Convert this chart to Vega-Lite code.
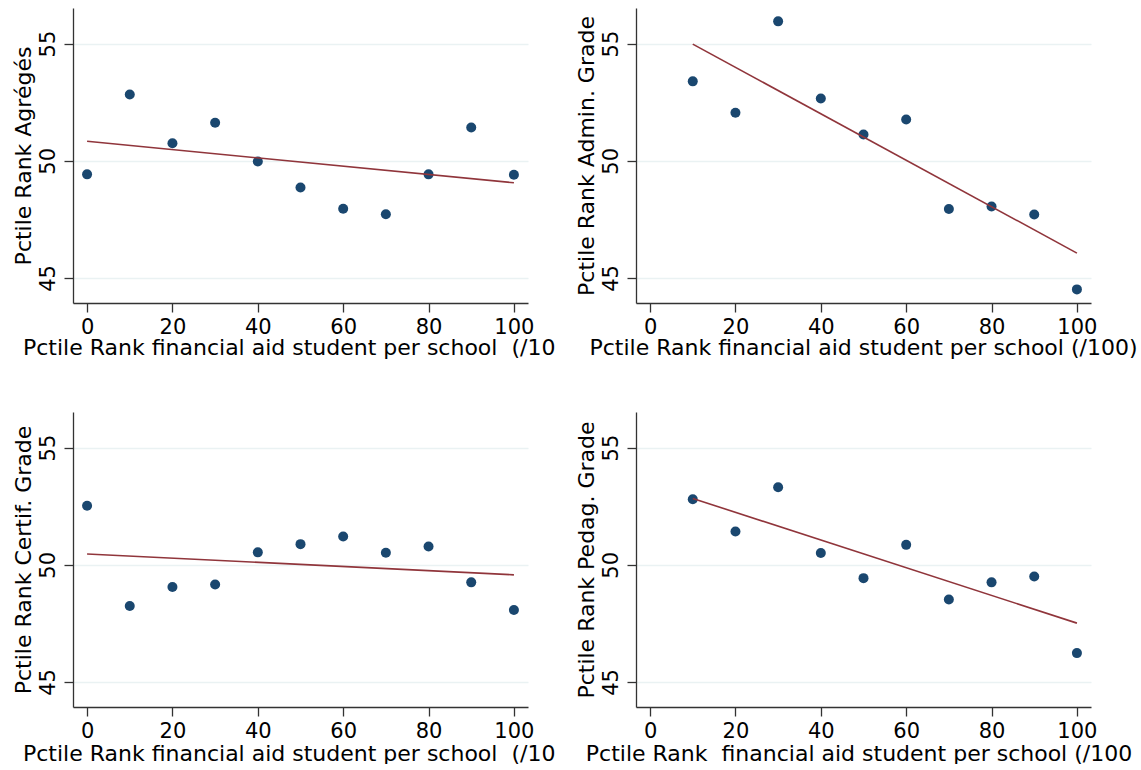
{
  "$schema": "https://vega.github.io/schema/vega-lite/v6.json",
  "background": "white",
  "padding": {"left": 12, "top": 8, "right": 0, "bottom": 0},
  "bounds": "flush",
  "columns": 2,
  "spacing": {"row": 109, "column": 108},
  "config": {
    "font": "DejaVu Sans",
    "view": {"stroke": null},
    "axis": {
      "labelFont": "DejaVu Sans",
      "titleFont": "DejaVu Sans",
      "labelFontSize": 21,
      "titleFontSize": 22,
      "titleFontWeight": "normal",
      "labelColor": "#000000",
      "titleColor": "#000000",
      "domainColor": "#333333",
      "tickColor": "#333333",
      "domainWidth": 1.3,
      "tickWidth": 1.3,
      "tickSize": 9,
      "gridColor": "#eaf2f3",
      "gridWidth": 1.5
    }
  },
  "datasets": {
    "pts_agreges": [
      {"x": 0, "y": 49.42}, {"x": 10, "y": 52.83}, {"x": 20, "y": 50.75}, {"x": 30, "y": 51.62},
      {"x": 40, "y": 49.97}, {"x": 50, "y": 48.86}, {"x": 60, "y": 47.95}, {"x": 70, "y": 47.72},
      {"x": 80, "y": 49.42}, {"x": 90, "y": 51.42}, {"x": 100, "y": 49.40}
    ],
    "fit_agreges": [{"x": 0, "y": 50.83}, {"x": 100, "y": 49.06}],
    "pts_admin": [
      {"x": 10, "y": 53.39}, {"x": 20, "y": 52.05}, {"x": 30, "y": 55.95}, {"x": 40, "y": 52.66},
      {"x": 50, "y": 51.12}, {"x": 60, "y": 51.76}, {"x": 70, "y": 47.94}, {"x": 80, "y": 48.05},
      {"x": 90, "y": 47.71}, {"x": 100, "y": 44.51}
    ],
    "fit_admin": [{"x": 10, "y": 54.98}, {"x": 100, "y": 46.06}],
    "pts_certif": [
      {"x": 0, "y": 52.52}, {"x": 10, "y": 48.24}, {"x": 20, "y": 49.05}, {"x": 30, "y": 49.16},
      {"x": 40, "y": 50.53}, {"x": 50, "y": 50.88}, {"x": 60, "y": 51.21}, {"x": 70, "y": 50.51},
      {"x": 80, "y": 50.78}, {"x": 90, "y": 49.25}, {"x": 100, "y": 48.07}
    ],
    "fit_certif": [{"x": 0, "y": 50.46}, {"x": 100, "y": 49.57}],
    "pts_pedag": [
      {"x": 10, "y": 52.80}, {"x": 20, "y": 51.42}, {"x": 30, "y": 53.31}, {"x": 40, "y": 50.50},
      {"x": 50, "y": 49.43}, {"x": 60, "y": 50.85}, {"x": 70, "y": 48.52}, {"x": 80, "y": 49.25},
      {"x": 90, "y": 49.50}, {"x": 100, "y": 46.23}
    ],
    "fit_pedag": [{"x": 10, "y": 52.83}, {"x": 100, "y": 47.51}]
  },
  "concat": [
    {
      "width": 455, "height": 295,
      "encoding": {
        "x": {"field": "x", "type": "quantitative",
          "scale": {"domain": [-3.3, 103.3], "nice": false, "zero": false},
          "axis": {"values": [0, 20, 40, 60, 80, 100], "grid": false, "labelPadding": 4,
            "title": "Pctile Rank financial aid student per school \u00a0(/10",
            "titleAlign": "left", "titleAnchor": "start", "titleX": -50.5, "titleY": 51, "titleBaseline": "alphabetic"}},
        "y": {"field": "y", "type": "quantitative",
          "scale": {"domain": [43.93, 56.52], "nice": false, "zero": false},
          "axis": {"values": [45, 50, 55], "grid": true, "labelAngle": -90, "labelAlign": "center",
            "labelBaseline": "alphabetic", "labelPadding": 10,
            "title": "Pctile Rank Agrégés", "titleX": -43, "titleBaseline": "alphabetic"}}
      },
      "layer": [
        {"data": {"name": "pts_agreges"}, "mark": {"type": "circle", "size": 100, "opacity": 1, "color": "#1a476f"}},
        {"data": {"name": "fit_agreges"}, "mark": {"type": "line", "color": "#90353b", "strokeWidth": 1.6}}
      ]
    },
    {
      "width": 455, "height": 295,
      "encoding": {
        "x": {"field": "x", "type": "quantitative",
          "scale": {"domain": [-3.3, 103.3], "nice": false, "zero": false},
          "axis": {"values": [0, 20, 40, 60, 80, 100], "grid": false, "labelPadding": 4,
            "title": "Pctile Rank financial aid student per school (/100)",
            "titleAlign": "left", "titleAnchor": "start", "titleX": -47, "titleY": 51, "titleBaseline": "alphabetic"}},
        "y": {"field": "y", "type": "quantitative",
          "scale": {"domain": [43.93, 56.52], "nice": false, "zero": false},
          "axis": {"values": [45, 50, 55], "grid": true, "labelAngle": -90, "labelAlign": "center",
            "labelBaseline": "alphabetic", "labelPadding": 10,
            "title": "Pctile Rank Admin. Grade", "titleX": -43, "titleBaseline": "alphabetic"}}
      },
      "layer": [
        {"data": {"name": "pts_admin"}, "mark": {"type": "circle", "size": 100, "opacity": 1, "color": "#1a476f"}},
        {"data": {"name": "fit_admin"}, "mark": {"type": "line", "color": "#90353b", "strokeWidth": 1.6}}
      ]
    },
    {
      "width": 455, "height": 295,
      "encoding": {
        "x": {"field": "x", "type": "quantitative",
          "scale": {"domain": [-3.3, 103.3], "nice": false, "zero": false},
          "axis": {"values": [0, 20, 40, 60, 80, 100], "grid": false, "labelPadding": 4,
            "title": "Pctile Rank financial aid student per school \u00a0(/10",
            "titleAlign": "left", "titleAnchor": "start", "titleX": -50.5, "titleY": 53, "titleBaseline": "alphabetic"}},
        "y": {"field": "y", "type": "quantitative",
          "scale": {"domain": [43.93, 56.52], "nice": false, "zero": false},
          "axis": {"values": [45, 50, 55], "grid": true, "labelAngle": -90, "labelAlign": "center",
            "labelBaseline": "alphabetic", "labelPadding": 10,
            "title": "Pctile Rank Certif. Grade", "titleX": -43, "titleBaseline": "alphabetic"}}
      },
      "layer": [
        {"data": {"name": "pts_certif"}, "mark": {"type": "circle", "size": 100, "opacity": 1, "color": "#1a476f"}},
        {"data": {"name": "fit_certif"}, "mark": {"type": "line", "color": "#90353b", "strokeWidth": 1.6}}
      ]
    },
    {
      "width": 455, "height": 295,
      "encoding": {
        "x": {"field": "x", "type": "quantitative",
          "scale": {"domain": [-3.3, 103.3], "nice": false, "zero": false},
          "axis": {"values": [0, 20, 40, 60, 80, 100], "grid": false, "labelPadding": 4,
            "title": "Pctile Rank \u00a0financial aid student per school (/100",
            "titleAlign": "left", "titleAnchor": "start", "titleX": -50.7, "titleY": 53, "titleBaseline": "alphabetic"}},
        "y": {"field": "y", "type": "quantitative",
          "scale": {"domain": [43.93, 56.52], "nice": false, "zero": false},
          "axis": {"values": [45, 50, 55], "grid": true, "labelAngle": -90, "labelAlign": "center",
            "labelBaseline": "alphabetic", "labelPadding": 10,
            "title": "Pctile Rank Pedag. Grade", "titleX": -43, "titleBaseline": "alphabetic"}}
      },
      "layer": [
        {"data": {"name": "pts_pedag"}, "mark": {"type": "circle", "size": 100, "opacity": 1, "color": "#1a476f"}},
        {"data": {"name": "fit_pedag"}, "mark": {"type": "line", "color": "#90353b", "strokeWidth": 1.6}}
      ]
    }
  ]
}
